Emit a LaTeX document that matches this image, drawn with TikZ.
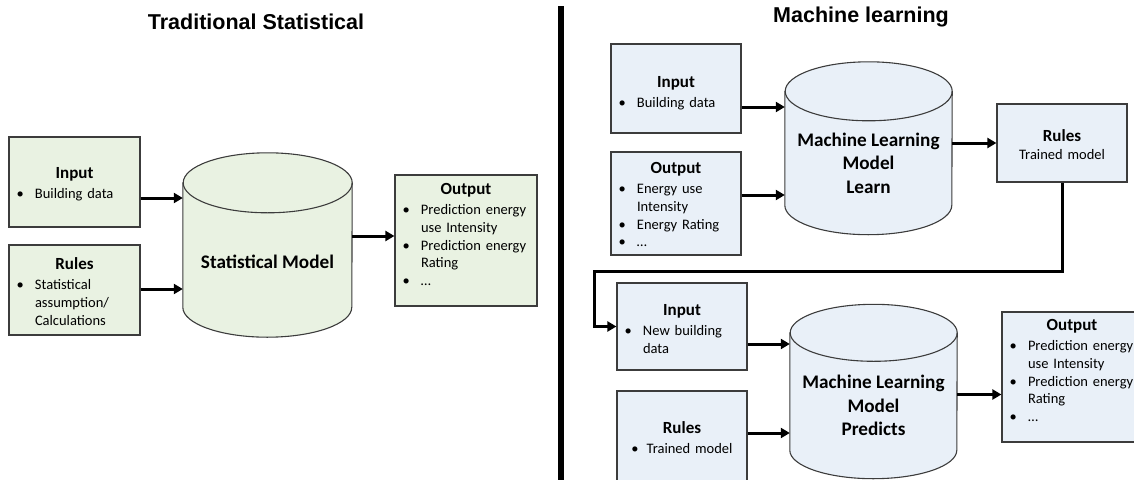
\documentclass[tikz,border=0pt]{standalone}
\usepackage{fontspec}
\setmainfont{Carlito}
\newfontfamily\titlefont{Liberation Sans}
\usetikzlibrary{arrows.meta,calc}

\definecolor{grfill}{HTML}{E9F2E2}
\definecolor{blfill}{HTML}{E9F0F8}
\definecolor{edge}{HTML}{3C3C3C}

% box heading (centred, bold) and bullet list
\newcommand\hd[1]{{\centering\fontsize{17}{20}\selectfont\bfseries #1\par}\vspace{2.3pt}}
\newcommand\blist[1]{\noindent\begin{tabular}[t]{@{}p{18.5pt}@{}l@{}}#1\end{tabular}\par}
\newcommand\bul{\textbullet}

% cylinder outline around a rectangular node whose top/bottom edges are the ellipse centres
\newcommand\drum[4]{%
  \filldraw[cylline, fill=#2] (#1.north west) -- (#1.south west)
    arc[start angle=180, end angle=360, x radius=#3, y radius=#4]
    -- (#1.north east)
    arc[start angle=0, end angle=180, x radius=#3, y radius=#4] -- cycle;
  \draw[cylline] (#1.north east) arc[start angle=0, end angle=-180, x radius=#3, y radius=#4];}

\tikzset{
  box/.style={draw=edge, line width=1.2pt, fill=#1, inner sep=0pt},
  content/.style={anchor=north, inner sep=0pt, text width=#1, align=left,
    font=\fontsize{14.5}{17.7}\selectfont},
  body/.style={inner sep=0pt, minimum width=#1},
  cylline/.style={draw=edge, line width=1.1pt},
  cyltext/.style={align=center, font=\fontsize{19.2}{23.5}\selectfont\bfseries},
  arr/.style={line width=3pt, -{Triangle[length=9pt,width=10pt]}},
  title/.style={anchor=base, font=\titlefont\fontsize{21.5}{26}\selectfont\bfseries},
}

\begin{document}
\begin{tikzpicture}[x=1pt, y=-1pt]
\useasboundingbox (0,0) rectangle (1134,479);
\clip (0,0) rectangle (1134,479);

% ---------- titles and divider ----------
\node[title] (tA) at (256,29) {Traditional Statistical};
\node[title] (tB) at (861,23) {Machine learning};
\coordinate (dv1) at (561,6);
\coordinate (dv2) at (561,485);
\draw[line width=5.5pt] (dv1) -- (dv2);

% ---------- traditional statistical ----------
\node[box=grfill, minimum width=131pt, minimum height=90pt] (inA) at (74.5,182) {};
\node[content=116pt] (inAt) at (74.5,167.5) {\hd{Input}\blist{\bul & Building data}};
\node[box=grfill, minimum width=131pt, minimum height=90pt] (ruA) at (74.5,290) {};
\node[content=116pt] (ruAt) at (74.5,257.5)
  {\hd{Rules}\blist{\bul & Statistical\\ & assumption/\\ & Calculations}};
\node[body=169pt, minimum height=124pt] (cylA) at (267.5,245) {};
\drum{cylA}{grfill}{84.5pt}{30pt}
\node[cyltext] (cylAt) at (267.5,262) {Statistical Model};
\node[box=grfill, minimum width=142pt, minimum height=131pt] (outA) at (466,240.5) {};
\node[content=127pt] (outAt) at (466,183.5)
  {\hd{Output}\blist{\bul & Prediction energy\\ & use Intensity\\ \bul & Prediction energy\\ & Rating\\ \bul & …}};

\draw[arr] ([yshift=-16pt]inA.east) -- ([yshift=-16pt]inA.east -| cylA.west);
\draw[arr] ([yshift=1pt]ruA.east) -- ([yshift=1pt]ruA.east -| cylA.west);
\draw[arr] ([yshift=9pt]cylA.east) -- ([yshift=9pt]cylA.east -| outA.west);

% ---------- machine learning: training ----------
\node[box=blfill, minimum width=130pt, minimum height=89pt] (inB) at (676,88.5) {};
\node[content=115pt] (inBt) at (676,76.5) {\hd{Input}\blist{\bul & Building data}};
\node[box=blfill, minimum width=130pt, minimum height=103pt] (ouB) at (676,203.5) {};
\node[content=115pt] (ouBt) at (676,162.5)
  {\hd{Output}\blist{\bul & Energy use\\ & Intensity\\ \bul & Energy Rating\\ \bul & …}};
\node[body=167pt, minimum height=113.5pt] (cylB) at (868.5,148.25) {};
\drum{cylB}{blfill}{83.5pt}{29.5pt}
\node[cyltext] (cylBt) at (868.5,163) {Machine Learning\\Model\\Learn};
\node[box=blfill, minimum width=130pt, minimum height=78pt] (ruB) at (1062,143) {};
\node[content=115pt, align=center] (ruBt) at (1062,129.5)
  {{\fontsize{17}{20}\selectfont\bfseries Rules}\\[0.5pt]Trained model};

\draw[arr] ([yshift=-18.5pt]inB.east) -- ([yshift=-18.5pt]inB.east -| cylB.west);
\draw[arr] ([yshift=8.5pt]ouB.east) -- ([yshift=8.5pt]ouB.east -| cylB.west);
\draw[arr] (cylB.east |- ruB.west) -- (ruB.west);

% ---------- machine learning: prediction ----------
\node[box=blfill, minimum width=130pt, minimum height=87pt] (inC) at (682,326.5) {};
\node[content=115pt] (inCt) at (682,304.5) {\hd{Input}\blist{\bul & New building\\ & data}};
\node[box=blfill, minimum width=130pt, minimum height=92pt] (ruC) at (682,437) {};
\node[content=115pt, align=center] (ruCt) at (682,421.5)
  {{\fontsize{17}{20}\selectfont\bfseries Rules}\\[2.5pt]\bul\hspace{8pt}Trained model};
\node[body=167pt, minimum height=117pt] (cylC) at (873.5,391.5) {};
\drum{cylC}{blfill}{83.5pt}{28.5pt}
\node[cyltext] (cylCt) at (873.5,405.5) {Machine Learning\\Model\\Predicts};
\node[box=blfill, minimum width=140pt, minimum height=130pt] (ouC) at (1072,377) {};
\node[content=125pt] (ouCt) at (1072,319.5)
  {\hd{Output}\blist{\bul & Prediction energy\\ & use Intensity\\ \bul & Prediction energy\\ & Rating\\ \bul & …}};

\draw[arr] ([yshift=-17.5pt]inC.east) -- ([yshift=-17.5pt]inC.east -| cylC.west);
\draw[arr] ([yshift=4pt]ruC.east) -- ([yshift=4pt]ruC.east -| cylC.west);
\draw[arr] ([yshift=-3pt]cylC.east) -- ([yshift=-3pt]cylC.east -| ouC.west);

% ---------- feedback of the trained rules ----------
\coordinate (fb) at (594,271);
\draw[arr] (ruB.south) |- (fb) |- (inC.west);
\end{tikzpicture}
\end{document}
